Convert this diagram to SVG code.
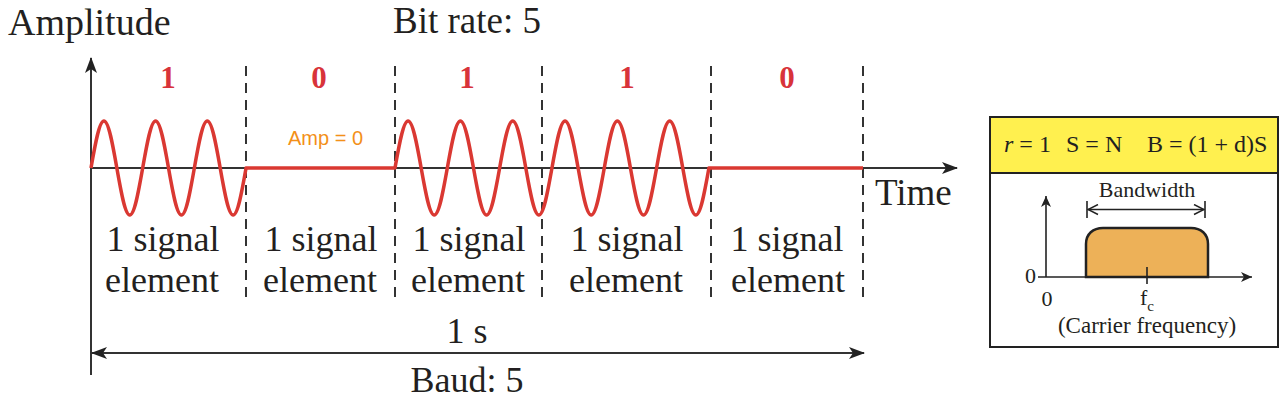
<svg xmlns="http://www.w3.org/2000/svg" width="1280" height="408" viewBox="0 0 1280 408">
<defs>
<style>
.serif{font-family:"Liberation Serif","Times New Roman",serif;fill:#231f20}
.big{font-size:37px}
.mid{font-size:36px}
.bit{font-size:31px;font-weight:bold;fill:#d8333a}
.small{font-size:22px}
.axis{stroke:#333;stroke-width:2;fill:none}
.dash{stroke:#333;stroke-width:2;stroke-dasharray:10 7;fill:none}
.wave{stroke:#da3832;stroke-width:3.5;fill:none;stroke-linejoin:round}
.thin{stroke:#222;stroke-width:1.6;fill:none}
</style>
<marker id="arr" markerUnits="userSpaceOnUse" markerWidth="17" markerHeight="12" refX="15" refY="6" orient="auto-start-reverse">
<path d="M0,0 L16,6 L0,12 L4,6 Z" fill="#222"/>
</marker>
<marker id="arrS" markerUnits="userSpaceOnUse" markerWidth="12" markerHeight="10" refX="11" refY="5" orient="auto-start-reverse">
<path d="M0,0 L11,5 L0,10 L3,5 Z" fill="#222"/>
</marker>
<marker id="open" markerUnits="userSpaceOnUse" markerWidth="12" markerHeight="12" refX="11" refY="6" orient="auto-start-reverse">
<path d="M1,1 L11,6 L1,11" fill="none" stroke="#222" stroke-width="1.5"/>
</marker>
</defs>
<rect width="1280" height="408" fill="#fff"/>

<g id="titles" class="serif">
<text x="8" y="35" style="font-size:38px">Amplitude</text>
<text x="393" y="33" class="big">Bit rate: 5</text>
<text x="875" y="205" class="big">Time</text>
</g>

<g id="dividers">
<line class="dash" x1="246" y1="66" x2="246" y2="302"/>
<line class="dash" x1="395" y1="66" x2="395" y2="302"/>
<line class="dash" x1="542" y1="66" x2="542" y2="302"/>
<line class="dash" x1="711" y1="66" x2="711" y2="302"/>
<line class="dash" x1="863" y1="66" x2="863" y2="302"/>
</g>

<g id="connectors">
<line class="axis" x1="91" y1="375" x2="91" y2="58" marker-end="url(#arr)"/>
<line class="axis" x1="91" y1="168" x2="957" y2="168" marker-end="url(#arr)"/>
<line class="axis" x1="92" y1="353" x2="864" y2="353" marker-start="url(#arr)" marker-end="url(#arr)"/>
</g>

<g id="signal">
<path class="wave" d="M91,168 c4.22,-24.1 8.24,-47 12.92,-47 s8.7,22.9 12.92,47 s8.24,47 12.92,47 s8.7,-22.9 12.92,-47
 s8.24,-47 12.92,-47 s8.7,22.9 12.92,47 s8.24,47 12.92,47 s8.7,-22.9 12.92,-47
 s8.24,-47 12.92,-47 s8.7,22.9 12.92,47 s8.24,47 12.92,47 s8.7,-22.9 12.92,-47
 L395,168
 c4.27,-24.1 8.35,-47 13.08,-47 s8.81,22.9 13.08,47 s8.35,47 13.08,47 s8.81,-22.9 13.08,-47
 s8.35,-47 13.08,-47 s8.81,22.9 13.08,47 s8.35,47 13.08,47 s8.81,-22.9 13.08,-47
 s8.35,-47 13.08,-47 s8.81,22.9 13.08,47 s8.35,47 13.08,47 s8.81,-22.9 13.08,-47
 s8.35,-47 13.08,-47 s8.81,22.9 13.08,47 s8.35,47 13.08,47 s8.81,-22.9 13.08,-47
 s8.35,-47 13.08,-47 s8.81,22.9 13.08,47 s8.35,47 13.08,47 s8.81,-22.9 13.08,-47
 s8.35,-47 13.08,-47 s8.81,22.9 13.08,47 s8.35,47 13.08,47 s8.81,-22.9 13.08,-47
 L863,168"/>
<text x="288" y="145" style="font-family:'Liberation Sans',Arial,sans-serif;font-size:20px;fill:#f39019">Amp = 0</text>
</g>

<g id="bits" class="serif bit" text-anchor="middle">
<text x="168" y="88" class="bit">1</text>
<text x="319" y="88" class="bit">0</text>
<text x="467" y="88" class="bit">1</text>
<text x="627" y="88" class="bit">1</text>
<text x="787" y="88" class="bit">0</text>
</g>

<g id="elements" class="serif mid" text-anchor="middle">
<text x="163" y="251">1 signal</text>
<text x="321" y="251">1 signal</text>
<text x="469" y="251">1 signal</text>
<text x="627" y="251">1 signal</text>
<text x="787" y="251">1 signal</text>
<text x="162" y="292">element</text>
<text x="320" y="292">element</text>
<text x="468" y="292">element</text>
<text x="626" y="292">element</text>
<text x="788" y="292">element</text>
</g>

<g id="duration" class="serif mid" text-anchor="middle">
<text x="467" y="343">1 s</text>
<text x="467" y="392">Baud: 5</text>
</g>

<g id="panel">
<rect x="990" y="117" width="288" height="230" fill="#fff" stroke="#222" stroke-width="2"/>
<rect x="990" y="117" width="288" height="56" fill="#fff04f" stroke="#222" stroke-width="2"/>
<text class="serif" style="font-size:24px" y="152"><tspan x="1004" font-style="italic">r</tspan><tspan> = 1</tspan><tspan x="1066">S = N</tspan><tspan x="1147">B = (1 + d)S</tspan></text>
<path d="M1086,277 V244 C1086,234 1093,228 1103,228 H1191 C1201,228 1208,234 1208,244 V277 Z" fill="#edb158" stroke="#222" stroke-width="2.5"/>
<line class="thin" x1="1046" y1="277" x2="1046" y2="196" marker-end="url(#arrS)"/>
<line class="thin" x1="1038" y1="277" x2="1252" y2="277" marker-end="url(#arrS)"/>
<line class="thin" x1="1147" y1="267" x2="1147" y2="284"/>
<line class="thin" x1="1087" y1="201" x2="1087" y2="218"/>
<line class="thin" x1="1205" y1="201" x2="1205" y2="218"/>
<line class="thin" x1="1088" y1="209.5" x2="1204" y2="209.5" marker-start="url(#open)" marker-end="url(#open)"/>
<text class="serif small" x="1147" y="197" text-anchor="middle">Bandwidth</text>
<text class="serif small" x="1025" y="283">0</text>
<text class="serif small" x="1047" y="306" text-anchor="middle">0</text>
<text class="serif small" x="1140" y="305">f<tspan font-size="15" dy="6">c</tspan></text>
<text class="serif" style="font-size:23px" x="1147" y="333" text-anchor="middle">(Carrier frequency)</text>
</g>
</svg>
